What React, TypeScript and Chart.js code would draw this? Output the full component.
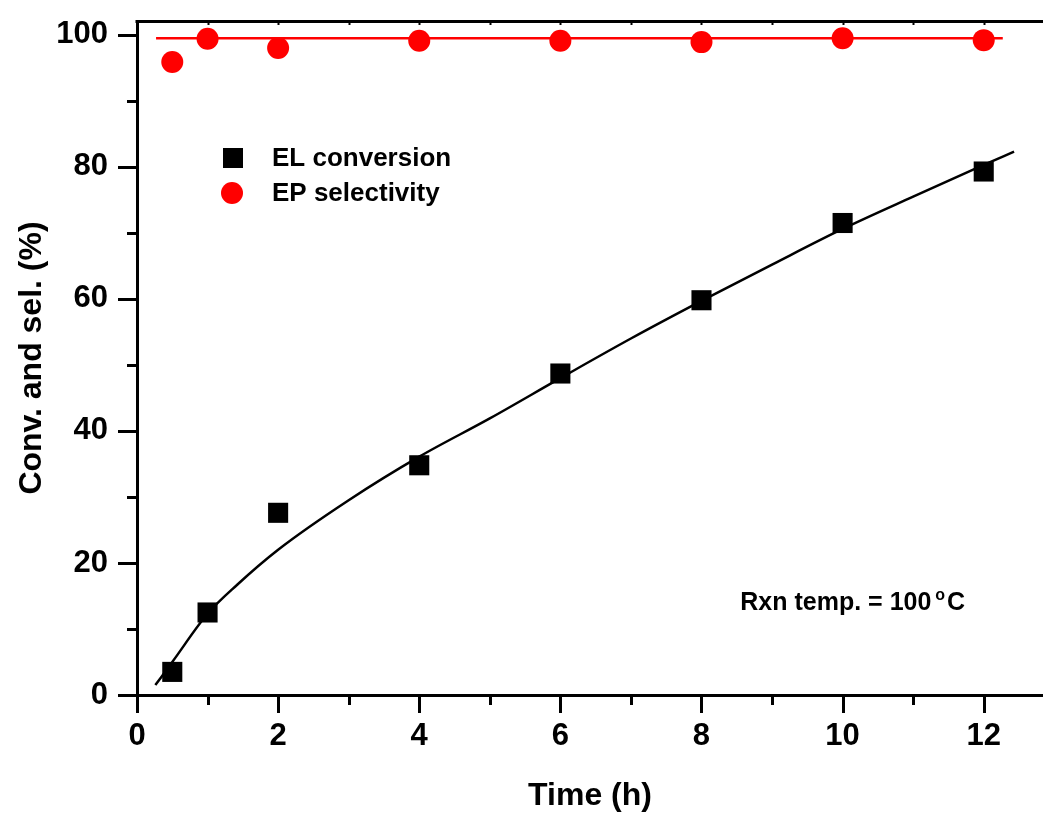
import React, { useEffect, useRef } from "react";
import { Chart, registerables } from "chart.js";

Chart.register(...registerables);

// ---- data ----
const timeH = [0.5, 1, 2, 4, 6, 8, 10, 12];
const elConversion = [3.5, 12.5, 27.6, 34.8, 48.7, 59.8, 71.5, 79.3];
const epSelectivity = [95.9, 99.4, 98.0, 99.1, 99.1, 98.9, 99.5, 99.2];

const fitX = [0.26, 0.5, 1, 1.42, 2, 3, 4, 5, 6, 7, 8, 9, 10, 11, 12, 12.43];
const fitY = [1.5, 5.0, 12.3, 16.7, 22.0, 29.5, 36.1, 41.9, 48.0, 54.0, 59.7, 65.2, 70.6, 75.5, 80.3, 82.3];

const selLineX = [0.27, 12.27];
const selLineY = [99.5, 99.5];

const legendLabels = ["EL conversion", "EP selectivity"];
const xTitle = "Time (h)";
const yTitle = "Conv. and sel. (%)";
const noteMain = "Rxn temp. = 100";
const noteSup = "o";
const noteUnit = "C";

const X_MIN = 0;
const X_MAX = 12.84;
const Y_MIN = 0;
const Y_MAX = 102.1;

const FONT = "'Liberation Sans', Arial, Helvetica, sans-serif";

const pairs = (xs: number[], ys: number[]) => xs.map((x, i) => ({ x, y: ys[i] }));

const zeroPad = (s: any) => {
  s.paddingLeft = 0;
  s.paddingRight = 0;
  s.paddingTop = 0;
  s.paddingBottom = 0;
};

const decorPlugin = {
  id: "decor",
  afterDraw(chart: any) {
    const { ctx, chartArea, scales } = chart;
    const xs = scales.x;
    const ys = scales.y;
    ctx.save();
    ctx.strokeStyle = "#000";
    ctx.lineCap = "butt";
    // outward tick marks on bottom axis
    ctx.lineWidth = 3;
    xs.ticks.forEach((t: any) => {
      const px = Math.round(xs.getPixelForValue(t.value)) + 0.5;
      const major = Math.abs(t.value % 2) < 1e-6;
      ctx.beginPath();
      ctx.moveTo(px, chartArea.bottom);
      ctx.lineTo(px, chartArea.bottom + (major ? 18 : 10));
      ctx.stroke();
    });
    // outward tick marks on left axis
    ys.ticks.forEach((t: any) => {
      const py = Math.round(ys.getPixelForValue(t.value)) + 0.5;
      const major = Math.abs(t.value % 20) < 1e-6;
      ctx.beginPath();
      ctx.moveTo(chartArea.left, py);
      ctx.lineTo(chartArea.left - (major ? 19 : 10), py);
      ctx.stroke();
    });
    // top axis line with small inward ticks
    ctx.lineWidth = 3;
    ctx.beginPath();
    ctx.moveTo(chartArea.left - 1.5, chartArea.top + 0.5);
    ctx.lineTo(chartArea.right, chartArea.top + 0.5);
    ctx.stroke();
    ctx.lineWidth = 2;
    xs.ticks.forEach((t: any) => {
      const px = Math.round(xs.getPixelForValue(t.value)) + 0.5;
      ctx.beginPath();
      ctx.moveTo(px, chartArea.top);
      ctx.lineTo(px, chartArea.top + 4);
      ctx.stroke();
    });

    // legend
    const lx = chartArea.left + 96;
    const ly1 = chartArea.top + 137;
    const ly2 = chartArea.top + 172;
    ctx.fillStyle = "#000";
    ctx.fillRect(lx - 10, ly1 - 10, 20, 20);
    ctx.fillStyle = "#ff0000";
    ctx.beginPath();
    ctx.arc(lx - 1, ly2, 11, 0, Math.PI * 2);
    ctx.fill();
    ctx.fillStyle = "#000";
    ctx.font = `bold 26px ${FONT}`;
    ctx.textAlign = "left";
    ctx.textBaseline = "middle";
    ctx.fillText(legendLabels[0], chartArea.left + 135, ly1 + 1);
    ctx.fillText(legendLabels[1], chartArea.left + 135, ly2 + 1);

    // annotation
    const nx = xs.getPixelForValue(8.55);
    const nb = ys.getPixelForValue(12.9);
    ctx.textBaseline = "alphabetic";
    ctx.font = `bold 25px ${FONT}`;
    ctx.fillText(noteMain, nx, nb);
    const w = ctx.measureText(noteMain).width;
    ctx.font = `bold 16px ${FONT}`;
    ctx.fillText(noteSup, nx + w + 4, nb - 10);
    const w2 = ctx.measureText(noteSup).width;
    ctx.font = `bold 25px ${FONT}`;
    ctx.fillText(noteUnit, nx + w + 4 + w2 + 2, nb);
    ctx.restore();
  },
};

export default function App() {
  const ref = useRef<HTMLCanvasElement | null>(null);
  useEffect(() => {
    if (!ref.current) return;
    const chart = new Chart(ref.current, {
      type: "scatter",
      data: {
        datasets: [
          {
            label: legendLabels[1],
            data: pairs(timeH, epSelectivity),
            pointStyle: "circle",
            pointRadius: 11,
            backgroundColor: "#ff0000",
            borderColor: "#ff0000",
            borderWidth: 0,
            showLine: false,
          },
          {
            label: legendLabels[0],
            data: pairs(timeH, elConversion),
            pointStyle: "rect",
            pointRadius: 14.2,
            backgroundColor: "#000",
            borderColor: "#000",
            borderWidth: 0,
            showLine: false,
          },
          {
            label: "sel line",
            data: pairs(selLineX, selLineY),
            showLine: true,
            pointRadius: 0,
            borderColor: "#ff0000",
            borderWidth: 2.5,
          },
          {
            label: "fit",
            data: pairs(fitX, fitY),
            showLine: true,
            pointRadius: 0,
            borderColor: "#000",
            borderWidth: 2.5,
            cubicInterpolationMode: "monotone",
          },
        ],
      },
      options: {
        animation: false,
        responsive: false,
        devicePixelRatio: 1,
        layout: { autoPadding: false, padding: { left: 0, right: 0, top: 21, bottom: 0 } },
        plugins: {
          legend: { display: false },
          tooltip: { enabled: false },
        },
        scales: {
          x: {
            type: "linear",
            min: X_MIN,
            max: X_MAX,
            grid: { display: false, drawTicks: false },
            border: { display: true, color: "#000", width: 3 },
            ticks: {
              stepSize: 1,
              includeBounds: false,
              autoSkip: false,
              maxRotation: 0,
              padding: 23,
              color: "#000",
              font: { family: FONT, size: 31, weight: "bold" },
              callback: (v: any) => (Math.abs(Number(v) % 2) < 1e-6 ? String(v) : ""),
            },
            title: {
              display: true,
              text: xTitle,
              color: "#000",
              font: { family: FONT, size: 32, weight: "bold" },
              padding: { top: 0, bottom: 2 },
            },
            afterFit: (s: any) => {
              s.height = 122;
              zeroPad(s);
            },
          },
          y: {
            type: "linear",
            min: Y_MIN,
            max: Y_MAX,
            grid: { display: false, drawTicks: false },
            border: { display: true, color: "#000", width: 3 },
            ticks: {
              stepSize: 10,
              includeBounds: false,
              autoSkip: false,
              padding: 29,
              color: "#000",
              font: { family: FONT, size: 31, weight: "bold" },
              callback: (v: any) => (Math.abs(Number(v) % 20) < 1e-6 ? String(v) : ""),
            },
            title: {
              display: true,
              text: yTitle,
              color: "#000",
              font: { family: FONT, size: 32, weight: "bold" },
              padding: { top: 13, bottom: 0 },
            },
            afterFit: (s: any) => {
              s.width = 137;
              zeroPad(s);
            },
          },
        },
      },
      plugins: [decorPlugin],
    } as any);
    return () => chart.destroy();
  }, []);

  return (
    <div style={{ position: "absolute", left: 0, top: 0, width: 1043, height: 817, background: "#fff" }}>
      <canvas ref={ref} width={1043} height={817} style={{ display: "block" }} />
    </div>
  );
}
